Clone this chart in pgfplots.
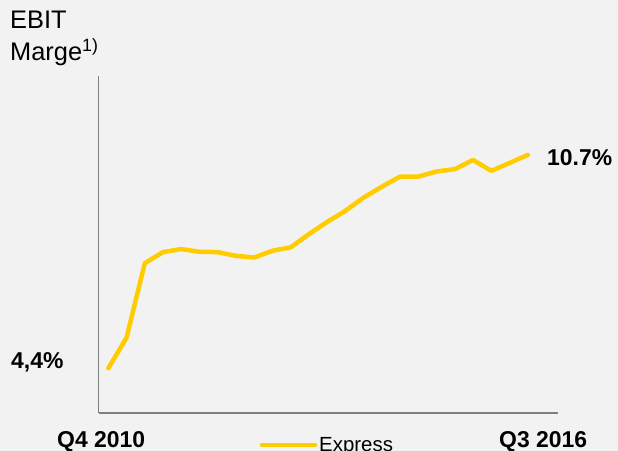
\documentclass[border=0pt]{standalone}
\usepackage{pgfplots}
\pgfplotsset{compat=1.18}
\usepackage{fontspec}
\setmainfont{Liberation Sans}
\definecolor{bg}{HTML}{F2F2F2}
\definecolor{dhl}{HTML}{FFCC00}
\definecolor{axgray}{HTML}{808080}
\begin{document}
\begin{tikzpicture}[x=1bp,y=1bp]
\useasboundingbox (0,0) rectangle (618,451);
\fill[bg] (0,0) rectangle (618,451);
\begin{axis}[
  scale only axis,
  width=459.3bp, height=337bp,
  at={(98.7bp,38bp)}, anchor=south west,
  xmin=-0.526, xmax=24.66,
  ymin=3.08, ymax=13.03,
  axis lines=left,
  axis line style={-, axgray, line width=1.3bp},
  xtick=\empty, ytick=\empty,
  clip=false,
]
\addplot[dhl, line width=4.5bp, line cap=round, line join=round] coordinates {
(0,4.40) (1,5.30) (2,7.50) (3,7.83) (4,7.92) (5,7.84) (6,7.83) (7,7.72)
(8,7.67) (9,7.87) (10,7.97) (11,8.36) (12,8.72) (13,9.05) (14,9.44) (15,9.76)
(16,10.06) (17,10.06) (18,10.21) (19,10.28) (20,10.55) (21,10.23) (22,10.46) (23,10.70)
};
\end{axis}
\node[anchor=base west, inner sep=0pt, font=\fontsize{25.5}{30}\selectfont] at (10,422.7) {EBIT};
\node[anchor=base west, inner sep=0pt, font=\fontsize{25.5}{30}\selectfont] at (10,390.3) {Marge\textsuperscript{1)}};
\node[anchor=base west, inner sep=0pt, font=\fontsize{23}{27}\selectfont\bfseries] at (11,82.7) {4,4\%};
\node[anchor=base west, inner sep=0pt, font=\fontsize{23}{27}\selectfont\bfseries] at (57,3.7) {Q4 2010};
\node[anchor=base west, inner sep=0pt, font=\fontsize{23}{27}\selectfont\bfseries] at (499,3.7) {Q3 2016};
\node[anchor=base west, inner sep=0pt, font=\fontsize{23}{27}\selectfont\bfseries] at (547,285) {10.7\%};
\draw[dhl, line width=4.5bp, line cap=round] (262,6) -- (315,6);
\node[anchor=base west, inner sep=0pt, font=\fontsize{20.5}{24}\selectfont] at (319,-1) {Express};
\end{tikzpicture}
\end{document}
